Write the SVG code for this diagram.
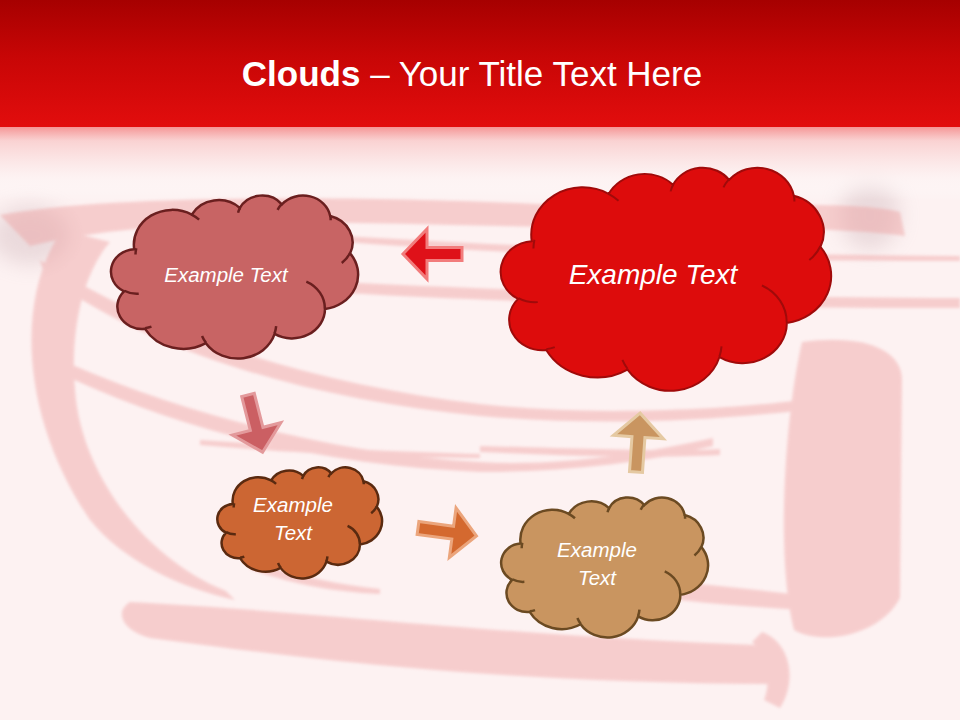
<svg xmlns="http://www.w3.org/2000/svg" xmlns:xlink="http://www.w3.org/1999/xlink" width="960" height="720" viewBox="0 0 960 720">
  <style>
    .lbl { font-family: "Liberation Sans", Arial, sans-serif; font-style: italic; fill: #ffffff; text-anchor: middle; }
    .title { font-family: "Liberation Sans", Arial, sans-serif; fill: #ffffff; text-anchor: middle; }
    .ns { vector-effect: non-scaling-stroke; }
    .arr { stroke-width: 3; stroke-linejoin: miter; }
    .brush { fill: #EE9C9C; }
  </style>
  <defs>
    <linearGradient id="hdr" x1="0" y1="0" x2="0" y2="1">
      <stop offset="0" stop-color="#A60000"/>
      <stop offset="0.45" stop-color="#C80606"/>
      <stop offset="1" stop-color="#E20D0D"/>
    </linearGradient>
    <linearGradient id="fade" x1="0" y1="0" x2="0" y2="1">
      <stop offset="0" stop-color="#F48C8C" stop-opacity="0.95"/>
      <stop offset="0.2" stop-color="#F9CCCC" stop-opacity="0.85"/>
      <stop offset="0.7" stop-color="#FDF3F3" stop-opacity="0.6"/>
      <stop offset="1" stop-color="#FFFFFF" stop-opacity="0"/>
    </linearGradient>
    <filter id="soft" x="-10%" y="-10%" width="120%" height="120%">
      <feGaussianBlur stdDeviation="1.5"/>
    </filter>
    <filter id="blur8" x="-30%" y="-30%" width="160%" height="160%">
      <feGaussianBlur stdDeviation="10"/>
    </filter>
    <g id="cloud">
      <path class="ns" d="M3900 14370 A6753 9190 0 0 1 14006 5203 A5333 7267 0 0 1 22456 3432 A4365 5945 0 0 1 29832 2478 A4857 6595 0 0 1 38317 5574 A5333 7273 0 0 1 41818 15457 A6775 9220 0 0 1 37406 30204 A5785 7867 0 0 1 28557 36814 A6752 9215 0 0 1 16482 39265 A7720 10543 0 0 1 5805 35469 A4360 5918 0 0 1 2113 25548 A4345 5945 0 0 1 3900 14370 Z"/>
      <path class="ns" fill="none" d="M4693 26177 A4345 5945 0 0 1 2159 25380 M6928 34899 A4360 5918 0 0 1 5819 35281 M16478 39090 A6752 9215 0 0 1 15810 37349 M28827 34751 A6752 9215 0 0 1 28560 36661 M34129 22954 A5785 7867 0 0 1 37380 30089 M41798 15354 A5333 7273 0 0 1 40350 18031 M38324 5426 A4857 6595 0 0 1 38400 6690 M29078 3952 A4857 6595 0 0 1 29820 2339 M22141 4720 A4365 5945 0 0 1 22500 3331 M14000 5192 A6753 9190 0 0 1 15300 6541 M4127 15789 A6753 9190 0 0 1 4258 14087"/>
    </g>
    <path id="arrow" d="M0,-6.5 H35 V-25 L59,0 L35,25 V6.5 H0 Z"/>
  </defs>

  <!-- background -->
  <rect x="0" y="0" width="960" height="720" fill="#FDF2F2"/>
  <g id="swirl">
    <g filter="url(#blur8)" opacity="0.35">
      <ellipse cx="30" cy="235" rx="40" ry="30" fill="#C9AEB4"/>
      <ellipse cx="870" cy="215" rx="30" ry="35" fill="#C9AEB4"/>
    </g>
    <g filter="url(#soft)" opacity="0.42">
      <path class="brush" d="M0,215 C120,192 400,197 560,205 C700,212 840,197 900,212 L905,236 C820,224 650,230 500,226 C330,222 150,216 30,246 Z"/>
      <path class="brush" d="M330,235 C500,246 700,254 960,256 L960,261 C700,261 500,254 330,241 Z"/>
      <path class="brush" d="M340,282 C500,290 700,297 960,298 L960,308 C700,308 500,302 345,293 Z"/>
      <path class="brush" d="M62,230 C14,300 22,420 90,520 C122,560 180,588 235,600 L226,591 C148,560 86,480 76,400 C68,330 84,272 110,242 Z"/>
      <path class="brush" d="M40,260 C150,330 300,382 480,404 C600,418 750,408 815,398 L815,409 C700,422 600,426 480,416 C300,398 150,350 45,276 Z"/>
      <path class="brush" d="M70,364 C200,420 350,455 480,462 C560,467 650,452 713,438 L713,446 C640,464 560,472 480,472 C340,466 200,438 70,378 Z"/>
      <path class="brush" d="M200,440 C300,447 400,452 480,454 L480,458 C400,458 300,454 200,445 Z"/>
      <path class="brush" d="M130,602 C300,610 500,636 780,646 L780,684 C500,684 300,658 150,638 C122,630 114,612 130,602 Z"/>
      <path class="brush" d="M250,562 C300,576 340,585 380,589 L380,594 C330,592 285,582 250,569 Z"/>
      <path class="brush" d="M802,342 C860,334 902,348 902,380 L900,598 C880,636 822,646 794,630 C776,560 784,420 802,342 Z"/>
      <path class="brush" d="M680,582 C720,586 760,590 800,595 L800,610 C760,607 720,605 680,600 Z"/>
      <path class="brush" d="M480,446 C600,449 680,452 720,449 L720,455 C660,458 580,457 480,452 Z"/>
      <path class="brush" d="M762,632 C790,642 798,680 780,708 L764,700 C772,680 766,652 752,642 Z"/>
    </g>
  </g>

  <!-- header -->
  <rect x="0" y="126" width="960" height="74" fill="url(#fade)"/>
  <rect x="0" y="0" width="960" height="127" fill="url(#hdr)"/>
  <text class="title" x="472" y="86" font-size="35"><tspan font-weight="bold">Clouds</tspan> – Your Title Text Here</text>

  <!-- connectors -->
  <g id="connectors">
    <use xlink:href="#arrow" class="arr" fill="#DF1119" stroke="#F27C7C" transform="translate(462,254) rotate(180)"/>
    <use xlink:href="#arrow" class="arr" fill="#CB5F63" stroke="#E3999B" transform="translate(248,395) rotate(75.7)"/>
    <use xlink:href="#arrow" class="arr" fill="#D4692F" stroke="#EBA57C" transform="translate(418,528) rotate(7.7)"/>
    <use xlink:href="#arrow" class="arr" fill="#C99560" stroke="#E5C9A2" transform="translate(636,472) rotate(-86)"/>
  </g>

  <!-- nodes -->
  <g id="node-a">
    <use xlink:href="#cloud" fill="#C86464" stroke="#6A1F1F" stroke-width="2.5" transform="translate(112,195) scale(0.0056944,0.0037731)"/>
    <text class="lbl" x="226" y="282" font-size="20.5">Example Text</text>
  </g>
  <g id="node-b">
    <use xlink:href="#cloud" fill="#DD0C0C" stroke="#A00A0A" stroke-width="2" transform="translate(502,167) scale(0.0076157,0.0051620)"/>
    <text class="lbl" x="653" y="284" font-size="28">Example Text</text>
  </g>
  <g id="node-c">
    <use xlink:href="#cloud" fill="#CC6633" stroke="#5A2A10" stroke-width="2.5" transform="translate(218,467) scale(0.0037963,0.0025694)"/>
    <text class="lbl" x="293" y="512" font-size="20.5">Example</text>
    <text class="lbl" x="293" y="540" font-size="20.5">Text</text>
  </g>
  <g id="node-d">
    <use xlink:href="#cloud" fill="#C99560" stroke="#6B4A22" stroke-width="2.5" transform="translate(502,497) scale(0.0047685,0.0032407)"/>
    <text class="lbl" x="597" y="557" font-size="20.5">Example</text>
    <text class="lbl" x="597" y="585" font-size="20.5">Text</text>
  </g>
</svg>
